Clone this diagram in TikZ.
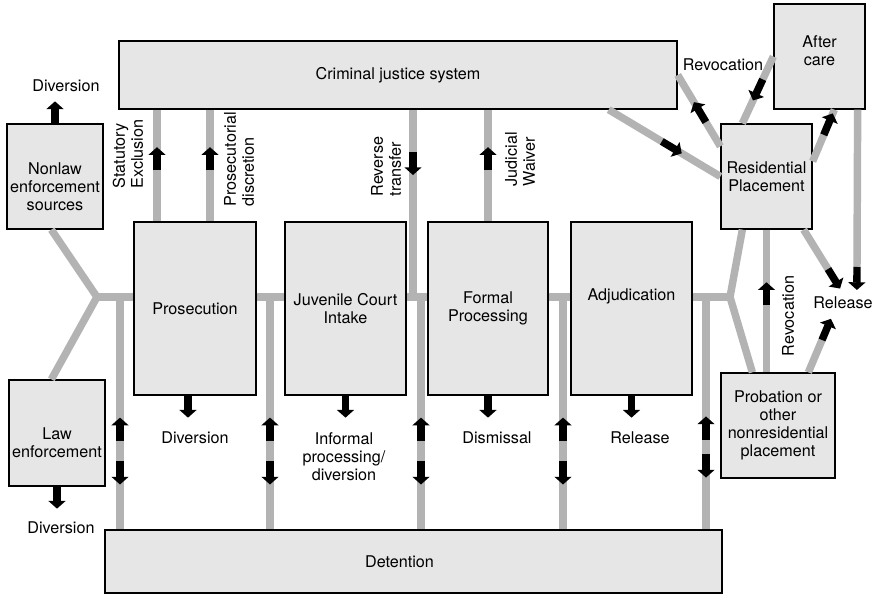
\documentclass[tikz,border=0pt]{standalone}
\usepackage{fontspec}
\setmainfont{TeX Gyre Heros}
\usetikzlibrary{arrows.meta, positioning, calc, decorations.markings}
\definecolor{boxfill}{HTML}{E6E6E6}
\definecolor{linkgray}{HTML}{B3B3B3}

\begin{document}
\begin{tikzpicture}[
    x=0.025cm, y=-0.025cm,
    every node/.style={font=\fontsize{11.5}{12.8}\selectfont},
    box/.style={rectangle, draw, line width=0.9pt, fill=boxfill, align=center, inner sep=1pt},
    lbl/.style={align=center, inner sep=1pt},
    side/.style={lbl, rotate=90, align=left, anchor=west},
    link/.style={line width=5.3pt, draw=linkgray},
    flow/.style={line width=5.3pt, draw=black, -{Triangle[width=12pt,length=5.5pt]}},
    fwd/.style={postaction={decorate, decoration={markings,
        mark=at position #1 with {\draw[flow] (-0.29cm,0) -- (0.29cm,0);}}}},
    bwd/.style={postaction={decorate, decoration={markings,
        mark=at position #1 with {\draw[flow] (0.29cm,0) -- (-0.29cm,0);}}}},
    endtip/.style={postaction={decorate, decoration={markings,
        mark=at position 1 with {\draw[flow] (0,0) -- (0.575cm,0);}}}}
]
    \path[fill=white, use as bounding box] (0,0) rectangle (875,598);

    % Boxes
    \node[box, minimum width=13.95cm, minimum height=1.7cm] (cjs) at (398,75) {Criminal justice system};
    \node[box, minimum width=2.275cm, minimum height=2.625cm,
          label={[lbl, yshift=0.15cm]center:{After\\care}}] (after) at (819.5,56.5) {};
    \node[box, minimum width=2.275cm, minimum height=2.625cm] (res) at (766.5,176.5) {Residential\\Placement};
    \node[box, minimum width=2.4cm, minimum height=2.625cm,
          label={[lbl, yshift=-0.25cm]center:{Nonlaw\\enforcement\\sources}}] (nonlaw) at (55,176.5) {};
    \node[box, minimum width=2.4cm, minimum height=2.65cm,
          label={[lbl, yshift=-0.25cm]center:{Law\\enforcement}}] (law) at (57,433) {};
    \node[box, minimum width=3.05cm, minimum height=4.325cm] (prose) at (195,308.5) {Prosecution};
    \node[box, minimum width=3.025cm, minimum height=4.325cm] (jci) at (345.5,308.5) {Juvenile Court\\Intake};
    \node[box, minimum width=3cm, minimum height=4.325cm] (formal) at (488,308.5) {Formal\\Processing};
    \node[box, minimum width=3.025cm, minimum height=4.325cm,
          label={[lbl, yshift=0.3cm]center:Adjudication}] (adj) at (631.5,308.5) {};
    \node[box, minimum width=2.85cm, minimum height=2.625cm] (prob) at (778,425.5) {Probation or\\other\\nonresidential\\placement};
    \node[box, minimum width=15.425cm, minimum height=1.575cm,
          label={[lbl, xshift=-0.35cm]center:Detention}] (det) at (413.5,561.5) {};

    % Labels
    \node[lbl] (divA) at (66,86) {Diversion};
    \node[lbl] (divB) at (61,528) {Diversion};
    \node[lbl] (divC) at (195,438) {Diversion};
    \node[lbl] (infm) at (344,457) {Informal\\processing/\\diversion};
    \node[lbl] (dism) at (497,438) {Dismissal};
    \node[lbl] (relA) at (640,438) {Release};
    \node[lbl] (relB) at (843,303) {Release};
    \node[lbl] (revA) at (723,65) {Revocation};
    \node[side, anchor=center] (revB) at (788,316) {Revocation};
    \node[side] (stat) at (128,190) {Statutory\\Exclusion};
    \node[side] (pdis) at (239,208) {Prosecutorial\\discretion};
    \node[side] (rtr) at (386,198) {Reverse\\transfer};
    \node[side] (jwv) at (520,188) {Judicial\\Waiver};

    % Junctions and drops
    \coordinate (row) at (0,297);
    \coordinate (jl) at (97,297);
    \coordinate (jr) at (730,297);
    \coordinate (d1) at (120,297);
    \coordinate (d2) at (270,297);
    \coordinate (d3) at (421,297);
    \coordinate (d4) at (563,297);
    \coordinate (d5) at (706,297);
    \coordinate (sx) at (157,0);
    \coordinate (px) at (210,0);
    \coordinate (rx) at (413,0);
    \coordinate (ra) at (857,267);
    \coordinate (rb) at (828,269);
    \coordinate (rc) at (822,340);

    % Main line
    \draw[link] ($(nonlaw.south west)+(45,0)$) -- (jl) -- ($(law.north west)+(43,0)$);
    \draw[link] (jl) -- (prose.west |- row);
    \draw[link] (prose.east |- row) -- (jci.west |- row);
    \draw[link] (jci.east |- row) -- (formal.west |- row);
    \draw[link] (formal.east |- row) -- (adj.west |- row);
    \draw[link] (adj.east |- row) -- (jr);
    \draw[link] ($(res.south west)+(22,0)$) -- (jr) -- ($(prob.north west)+(32,0)$);

    % Detention
    \foreach \d in {d1,d2,d3,d4}
        \draw[link, bwd=0.569, fwd=0.757] (\d) -- (\d |- det.north);
    \draw[link, bwd=0.564, fwd=0.727] (d5) -- (d5 |- det.north);

    % Transfers to criminal court
    \draw[link, fwd=0.56] (sx |- prose.north) -- (sx |- cjs.south);
    \draw[link, fwd=0.56] (px |- prose.north) -- (px |- cjs.south);
    \draw[link, fwd=0.287] (rx |- cjs.south) -- (rx |- row);
    \draw[link, fwd=0.56] (formal.north) -- (formal.north |- cjs.south);

    % Placement
    \draw[link, fwd=0.566] ($(cjs.south east)+(-69,0)$) -- (res.west);
    \draw[link, fwd=0.48] ($(res.north west)+(0,23)$) -- (cjs.east);
    \draw[link, fwd=0.5] (after.west) -- ($(res.north west)+(22,0)$);
    \draw[link, fwd=0.72] ($(res.north east)+(0,38)$) -- ($(after.south west)+(61,0)$);
    \draw[link, fwd=0.55] (res.south |- prob.north) -- (res.south);

    % Release
    \draw[link, endtip] ($(after.south east)+(-8,0)$) -- (ra);
    \draw[link, endtip] ($(res.south east)+(-9,0)$) -- (rb);
    \draw[link, endtip] ($(prob.north west)+(88,0)$) -- (rc);

    % Exits
    \draw[flow] (nonlaw.north) -- ++(0,-22);
    \draw[flow] (law.south) -- ++(0,22);
    \draw[flow] ($(prose.south)+(-7,0)$) -- ++(0,22);
    \draw[flow] (jci.south) -- ++(0,22);
    \draw[flow] (formal.south) -- ++(0,22);
    \draw[flow] (adj.south) -- ++(0,22);

\end{tikzpicture}
\end{document}
